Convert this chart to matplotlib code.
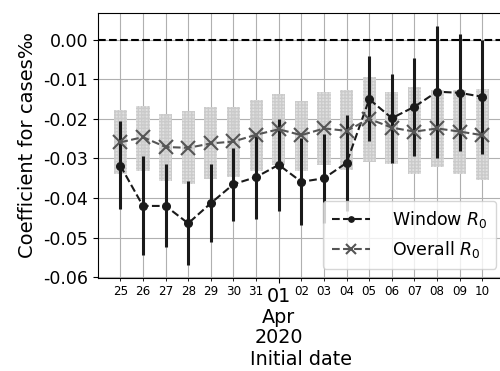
import numpy as np
import matplotlib
matplotlib.use("Agg")
import matplotlib.pyplot as plt
import matplotlib.dates as mdates
import matplotlib.ticker as mticker

dates = np.arange(np.datetime64("2020-03-25"), np.datetime64("2020-04-11"), np.timedelta64(1, "D"))

window_center = [-0.0318, -0.0420, -0.0420, -0.0464, -0.0413, -0.0365, -0.0347, -0.0316, -0.0359,
                 -0.0350, -0.0311, -0.0150, -0.0198, -0.0169, -0.0131, -0.0134, -0.0144]
window_upper = [-0.0205, -0.0294, -0.0314, -0.0356, -0.0313, -0.0273, -0.0242, -0.0200, -0.0249,
                -0.0238, -0.0190, -0.0042, -0.0087, -0.0046, 0.0036, 0.0014, 0.0000]
window_lower = [-0.0429, -0.0545, -0.0523, -0.0570, -0.0512, -0.0457, -0.0454, -0.0432, -0.0467,
                -0.0462, -0.0432, -0.0257, -0.0312, -0.0293, -0.0299, -0.0281, -0.0289]

overall_center = [-0.0259, -0.0246, -0.0271, -0.0273, -0.0262, -0.0257, -0.0240, -0.0226, -0.0241,
                  -0.0224, -0.0230, -0.0200, -0.0222, -0.0232, -0.0224, -0.0232, -0.0241]
overall_upper = [-0.0178, -0.0168, -0.0188, -0.0181, -0.0170, -0.0169, -0.0152, -0.0137, -0.0154,
                 -0.0131, -0.0127, -0.0093, -0.0133, -0.0120, -0.0127, -0.0127, -0.0125]
overall_lower = [-0.0340, -0.0331, -0.0357, -0.0365, -0.0353, -0.0346, -0.0332, -0.0316, -0.0331,
                 -0.0316, -0.0329, -0.0308, -0.0314, -0.0340, -0.0322, -0.0339, -0.0354]

x = dates.astype("datetime64[D]").astype(object)
wc = np.array(window_center)
wu = np.array(window_upper)
wl = np.array(window_lower)
oc = np.array(overall_center)
ou = np.array(overall_upper)
ol = np.array(overall_lower)

fig = plt.figure(figsize=(5, 3.71), dpi=100)
ax = fig.add_axes([0.1954, 0.252, 0.8146, 0.713])

ax.grid(True, which="both", color="#b0b0b0", linewidth=0.8, zorder=0)
ax.set_axisbelow(True)

# overall R0 intervals (wide light bars)
ax.bar(x, ou - ol, bottom=ol, width=0.58, color="#dcdcdc", edgecolor="#c8c8c8",
       hatch="+++++", linewidth=0, alpha=0.85, zorder=1)

ax.axhline(0, color="black", linestyle="--", linewidth=1.5, zorder=2)

# window R0 intervals
ax.vlines(x, wl, wu, color="#1a1a1a", linewidth=2.2, zorder=3)
ax.plot(x, wc, linestyle="--", color="#1a1a1a", marker="o", markersize=5.5,
        linewidth=1.5, label="Window $R_0$", zorder=4)
ax.plot(x, oc, linestyle="--", color="#555555", marker="x", markersize=10,
        markeredgewidth=1.5, linewidth=1.5, label="Overall $R_0$", zorder=4)

ax.set_xlim(np.datetime64("2020-03-24").astype(object), np.datetime64("2020-04-11").astype(object))
ax.set_ylim(-0.0601, 0.0068)
ax.set_yticks([0.0, -0.01, -0.02, -0.03, -0.04, -0.05, -0.06])
ax.yaxis.set_major_formatter(mticker.FormatStrFormatter("%.2f"))
ax.tick_params(axis="y", labelsize=12.5)

ax.xaxis.set_major_locator(mdates.MonthLocator())
ax.xaxis.set_major_formatter(mdates.DateFormatter("%d\n%b\n%Y"))
ax.xaxis.set_minor_locator(mticker.FixedLocator(mdates.date2num(x)))
ax.xaxis.set_minor_formatter(mdates.DateFormatter("%d"))
ax.tick_params(axis="x", which="major", labelsize=13.8, length=3.5, pad=3.5)
ax.tick_params(axis="x", which="minor", labelsize=8.6, length=2, pad=3.5)
for lab in ax.get_xticklabels(which="major"):
    lab.set_linespacing(1.1)

ax.set_ylabel("Coefficient for cases‰", fontsize=14)
ax.set_xlabel("Initial date", fontsize=13.8, labelpad=2)

ax.legend(loc="lower right", fontsize=12.5, markerscale=0.7, handlelength=2.2,
          handletextpad=1.3, borderpad=0.5)

fig.savefig("out.png", dpi=100)
